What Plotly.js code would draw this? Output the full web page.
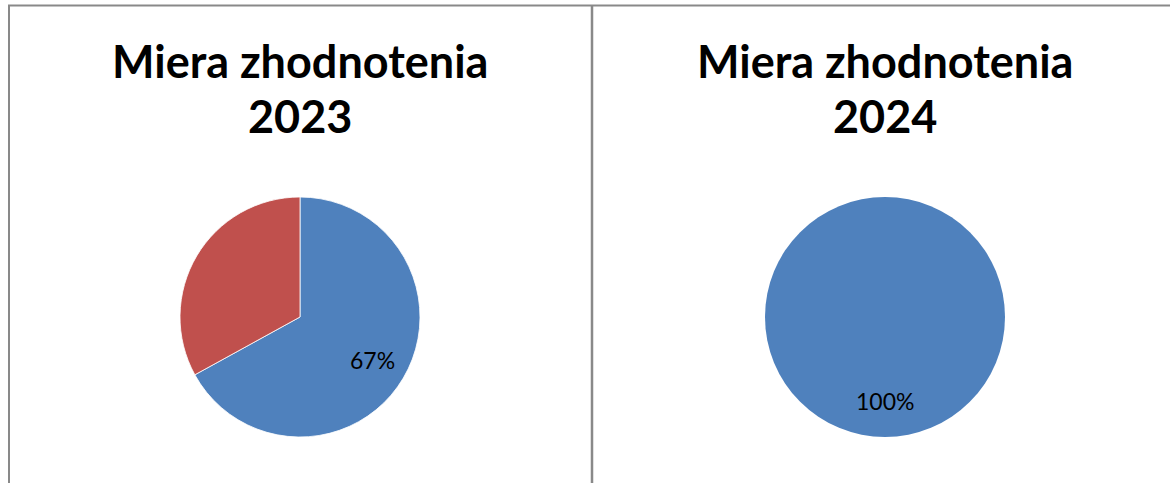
<!DOCTYPE html>
<html><head><meta charset="utf-8">
<script src="https://cdn.plot.ly/plotly-3.0.1.min.js"></script>
<style>html,body{margin:0;padding:0;background:#fff}#chart{width:1170px;height:483px}</style>
</head><body><div id="chart"></div>
<script>
const titleLine1 = ["Miera zhodnotenia", "Miera zhodnotenia"];
const titleLine2 = ["2023", "2024"];
const categories2023 = ["Zhodnotené", "Nezhodnotené"];
const values2023 = [67, 33];
const labels2023 = ["67%", ""];
const categories2024 = ["Zhodnotené"];
const values2024 = [100];
const labels2024 = ["100%"];
const colors = ["#4F81BD", "#C0504D"];

const W = 1170, H = 483;
const px = v => v / W, py = v => 1 - v / H;
const centers = [300, 885], cy = 317, R = 120;

const pies = [
  {cats:categories2023, vals:values2023, txt:labels2023},
  {cats:categories2024, vals:values2024, txt:labels2024}
];

const data = pies.map((p, i) => ({
  type:'pie', labels:p.cats, values:p.vals, textinfo:'none', sort:false, direction:'clockwise', rotation:0,
  marker:{colors:colors, line:{color:'#ffffff', width:p.vals.length > 1 ? 0.8 : 0}},
  domain:{x:[px(centers[i]-R), px(centers[i]+R)], y:[py(cy+R), py(cy-R)]},
  hoverinfo:'label+percent', showlegend:false
}));

const annotations = [];
pies.forEach((p, i) => {
  const total = p.vals.reduce((a, b) => a + b, 0);
  let cum = 0;
  p.vals.forEach((v, k) => {
    const mid = (cum + v / 2) / total * 2 * Math.PI;
    cum += v;
    if (!p.txt[k]) return;
    const r = 0.7 * R;
    annotations.push({text:p.txt[k], x:px(centers[i] + r * Math.sin(mid)), y:py(cy - r * Math.cos(mid)),
      xref:'paper', yref:'paper', showarrow:false, xanchor:'center', yanchor:'middle',
      font:{family:'Lato, sans-serif', size:23, color:'#000'}});
  });
  annotations.push({text:titleLine1[i], x:px(centers[i]), y:py(61), xref:'paper', yref:'paper', showarrow:false,
    xanchor:'center', yanchor:'middle', font:{family:'Lato, sans-serif', size:45, color:'#000', weight:'bold'}});
  annotations.push({text:titleLine2[i], x:px(centers[i]), y:py(116), xref:'paper', yref:'paper', showarrow:false,
    xanchor:'center', yanchor:'middle', font:{family:'Lato, sans-serif', size:45, color:'#000', weight:'bold'}});
});

const layout = {
  width:W, height:H, margin:{l:0,r:0,t:0,b:0},
  paper_bgcolor:'#fff', plot_bgcolor:'#fff',
  font:{family:'Lato, sans-serif'},
  annotations:annotations,
  shapes:[
    {type:'line', xref:'paper', yref:'paper', x0:px(8), x1:1, y0:py(5.5), y1:py(5.5), line:{color:'#898989', width:2}},
    {type:'line', xref:'paper', yref:'paper', x0:px(9), x1:px(9), y0:py(5), y1:0, line:{color:'#898989', width:2}},
    {type:'line', xref:'paper', yref:'paper', x0:px(592), x1:px(592), y0:py(5), y1:0, line:{color:'#898989', width:2.5}}
  ]
};
Plotly.newPlot('chart', data, layout, {displayModeBar:false, staticPlot:true});
</script></body></html>
